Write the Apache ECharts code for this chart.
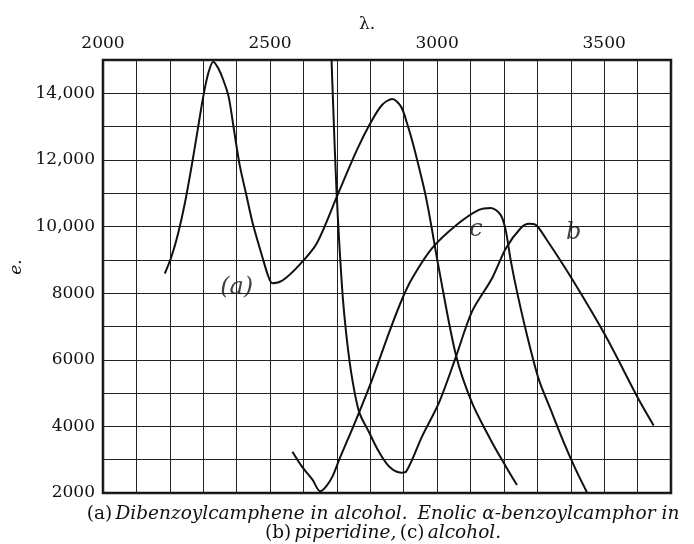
<!DOCTYPE html>
<html>
<head>
<meta charset="utf-8">
<script src="https://cdn.jsdelivr.net/npm/echarts@6/dist/echarts.min.js"></script>
<style>
  html, body { margin: 0; background: #fff; }
  #chart { width: 694px; height: 544px; }
</style>
</head>
<body>
<div id="chart"></div>
<script>
// curve (a): dibenzoylcamphene in alcohol
const aLambda = [2185, 2205, 2225, 2245, 2265, 2285, 2300, 2315, 2330, 2345, 2360, 2376, 2392, 2409, 2430, 2448, 2478, 2495, 2507, 2537, 2588, 2640, 2700, 2760, 2800, 2835, 2866, 2892, 2910, 2930, 2967, 3006, 3057, 3104, 3160, 3206, 3239];
const aE = [8590, 9100, 9800, 10700, 11800, 13000, 13900, 14600, 14950, 14750, 14400, 13900, 12900, 11850, 10900, 10100, 9050, 8500, 8300, 8380, 8850, 9500, 10900, 12300, 13100, 13650, 13830, 13600, 13100, 12400, 10860, 8700, 6110, 4720, 3600, 2790, 2240];

// curve (b): enolic a-benzoylcamphor in piperidine
const bLambda = [2684, 2688, 2699, 2716, 2730, 2746, 2767, 2797, 2825, 2857, 2893, 2907, 2955, 3006, 3057, 3104, 3164, 3206, 3250, 3275, 3295, 3325, 3403, 3504, 3603, 3648];
const bE = [15000, 13880, 11050, 8100, 6600, 5420, 4420, 3810, 3250, 2790, 2610, 2640, 3700, 4720, 6110, 7440, 8440, 9350, 9950, 10080, 10050, 9650, 8440, 6720, 4815, 4030];

// curve (c): enolic a-benzoylcamphor in alcohol
const cLambda = [2567, 2595, 2627, 2650, 2668, 2687, 2707, 2758, 2806, 2857, 2896, 2925, 2985, 3057, 3125, 3161, 3190, 3205, 3220, 3240, 3270, 3304, 3340, 3380, 3415, 3448];
const cE = [3240, 2800, 2400, 2050, 2200, 2500, 3000, 4210, 5420, 6840, 7840, 8440, 9350, 10040, 10500, 10560, 10350, 9900, 9000, 8000, 6700, 5420, 4500, 3500, 2700, 2030];

// hand-written curve marks
const markText = ['(a)', 'c', 'b'];
const markLambda = [2400, 3116, 3409];
const markE = [8150, 9890, 9800];

const xTickValues = [2000, 2500, 3000, 3500];
const yTickValues = [2000, 4000, 6000, 8000, 10000, 12000, 14000];
const yTickText = ['2000', '4000', '6000', '8000', '10,000', '12,000', '14,000'];

const serif = 'DejaVu Serif';
const ink = '#111';

const toPairs = (xs, ys) => xs.map((x, i) => [x, ys[i]]);

const chart = echarts.init(document.getElementById('chart'), null, { renderer: 'canvas' });

function curve(name, xs, ys) {
  return {
    name,
    type: 'line',
    data: toPairs(xs, ys),
    smooth: 0.3,
    showSymbol: false,
    lineStyle: { color: ink, width: 2 },
  };
}

const option = {
  backgroundColor: '#fff',
  animation: false,
  grid: {
    left: 103, right: 23, top: 60, bottom: 51,
    show: true, borderColor: ink, borderWidth: 2.5,
  },
  xAxis: {
    type: 'value',
    position: 'top',
    min: 2000, max: 3700, interval: 100,
    axisLine: { show: false },
    axisTick: { show: false },
    splitLine: { lineStyle: { color: '#222', width: 1 } },
    axisLabel: {
      margin: 8, fontFamily: serif, fontSize: 17, color: ink,
      formatter: (v) => (xTickValues.includes(v) ? String(v) : ''),
    },
  },
  yAxis: {
    type: 'value',
    min: 2000, max: 15000, interval: 1000,
    axisLine: { show: false },
    axisTick: { show: false },
    splitLine: { lineStyle: { color: '#222', width: 1 } },
    axisLabel: {
      margin: 8, fontFamily: serif, fontSize: 17, color: ink,
      formatter: (v) => {
        const i = yTickValues.indexOf(v);
        return i < 0 ? '' : yTickText[i];
      },
    },
  },
  graphic: [
    {
      type: 'text', x: 367, y: 25,
      style: { text: 'λ.', font: '17px "DejaVu Serif"', fill: ink, align: 'center', verticalAlign: 'middle' },
    },
    {
      type: 'text', x: 17, y: 267, rotation: Math.PI / 2,
      style: { text: 'e.', font: 'italic 17px "DejaVu Serif"', fill: ink, align: 'center', verticalAlign: 'middle' },
    },
    {
      type: 'text', x: 383, y: 524,
      style: {
        text: '{n|(a)} {i|Dibenzoylcamphene in alcohol.}   {i|Enolic α-benzoylcamphor in}\n{n|(b)} {i|piperidine,} {n|(c)} {i|alcohol.}',
        align: 'center', verticalAlign: 'middle', fill: ink,
        rich: {
          n: { fontFamily: serif, fontSize: 18.5, lineHeight: 19, fill: ink },
          i: { fontFamily: serif, fontStyle: 'italic', fontSize: 18.5, lineHeight: 19, fill: ink },
        },
      },
    },
  ],
  series: [
    curve('a', aLambda, aE),
    curve('b', bLambda, bE),
    curve('c', cLambda, cE),
    {
      type: 'scatter',
      symbolSize: 0,
      data: markLambda.map((x, i) => [x, markE[i], markText[i]]),
      label: {
        show: true, position: 'inside',
        formatter: (p) => p.value[2],
        fontFamily: serif, fontStyle: 'italic', fontSize: 24, color: ink,
      },
      silent: true,
    },
  ],
};

chart.setOption(option);
</script>
</body>
</html>
